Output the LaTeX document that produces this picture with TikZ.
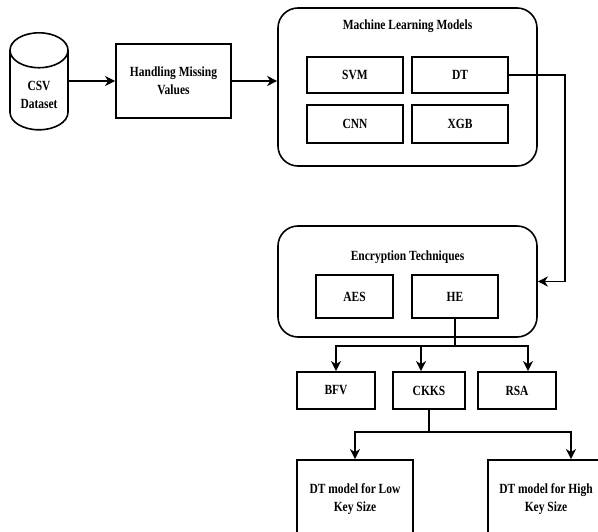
\documentclass[tikz,border=0pt]{standalone}
\usepackage{fontspec}
\setmainfont[FakeStretch=0.82]{Liberation Serif}
\usetikzlibrary{shapes.geometric,arrows.meta}
\tikzset{
	blk/.style={draw,line width=1.8pt,align=center,inner sep=2pt},
	grp/.style={draw,line width=1.6pt,rounded corners=20pt},
}
\begin{document}
\begin{tikzpicture}[x=1pt,y=-1pt,>={Stealth[length=10pt,width=10pt,inset=3pt]},line width=1.6pt,font=\bfseries\fontsize{14}{18}\selectfont]
	\clip (0,0) rectangle (598,532);
	\node[draw,cylinder,shape border rotate=90,aspect=0.8,minimum width=58,minimum height=97,line width=1.6pt,align=center] (csv) at (39,94.5) {CSV\\Dataset};
	\node[blk,minimum width=115,minimum height=74] (hmv) at (173.5,81) {Handling Missing\\Values};
	\node[grp,minimum width=259,minimum height=158] (ml) at (407.5,87) {};
	\node (mlt) at (407.5,26) {Machine Learning Models};
	\node[blk,minimum width=96,minimum height=36] (svm) at (355,75) {SVM};
	\node[blk,minimum width=96,minimum height=36] (dt) at (460,75) {DT};
	\node[blk,minimum width=96,minimum height=38] (cnn) at (355,124) {CNN};
	\node[blk,minimum width=96,minimum height=38] (xgb) at (460,124) {XGB};
	\node[grp,minimum width=259,minimum height=111] (enc) at (407.5,281.5) {};
	\node (enct) at (407.5,257) {Encryption Techniques};
	\node[blk,minimum width=77,minimum height=43] (aes) at (354.5,296.5) {AES};
	\node[blk,minimum width=86,minimum height=43] (he) at (455,296.5) {HE};
	\node[blk,minimum width=78,minimum height=37] (bfv) at (336,390.5) {BFV};
	\node[blk,minimum width=72,minimum height=37] (ckks) at (429,390.5) {CKKS};
	\node[blk,minimum width=78,minimum height=37] (rsa) at (517,390.5) {RSA};
	\node[blk,minimum width=116,minimum height=78] (low) at (355,499) {DT model for Low\\Key Size};
	\node[blk,minimum width=116,minimum height=78] (high) at (546,499) {DT model for High\\Key Size};
	\coordinate (bend) at (565,75);
	\coordinate (hej) at (455,346);
	\coordinate (ckj) at (429,432);
	\draw[->] (csv.east |- hmv.west) -- (hmv.west);
	\draw[->] (hmv.east) -- (hmv.east -| ml.west);
	\draw[->] (dt.east) -- (bend) |- (enc.east);
	\draw (he.south) -- (hej);
	\draw[->] (hej) -| (bfv.north);
	\draw[->] (hej) -| ([xshift=-8pt]ckks.north);
	\draw[->] (hej) -| ([xshift=11pt]rsa.north);
	\draw (ckks.south) -- (ckj);
	\draw[->] (ckj) -| (low.north);
	\draw[->] (ckj) -| ([xshift=25pt]high.north);
\end{tikzpicture}
\end{document}
